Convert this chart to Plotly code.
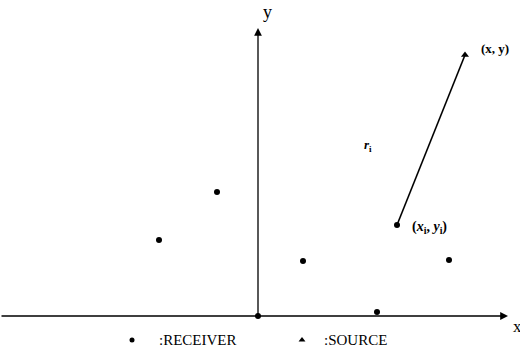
import plotly.graph_objects as go

# Data (units: arbitrary, origin at receiver 0)
receiver_x = [0.0, -4.1, -9.9, 4.5, 11.9, 19.1, 13.9]
receiver_y = [0.0, 12.4, 7.6, 5.5, 0.4, 5.6, 9.1]
source_x = [20.7]
source_y = [26.1]
ref_receiver = 6  # index of (x_i, y_i)

legend_labels = [":RECEIVER", ":SOURCE"]
legend_marker_x = [-12.6, 4.4]
legend_text_x = [-10.1, 6.4]
legend_y = -2.4

x_range = [-25.8, 26.2]
y_range = [-3.8, 31.6]

FONT = "Liberation Serif"

fig = go.Figure()

# line r_i from receiver i to source
fig.add_trace(go.Scatter(
    x=[receiver_x[ref_receiver], source_x[0]],
    y=[receiver_y[ref_receiver], source_y[0]],
    mode="lines", line=dict(color="black", width=1.6), hoverinfo="skip"))

fig.add_trace(go.Scatter(
    x=receiver_x, y=receiver_y, mode="markers",
    marker=dict(color="black", size=6, symbol="circle"), hoverinfo="skip"))

fig.add_trace(go.Scatter(
    x=source_x, y=source_y, mode="markers",
    marker=dict(color="black", size=7, symbol="triangle-up"), hoverinfo="skip"))

# legend markers
fig.add_trace(go.Scatter(
    x=[legend_marker_x[0]], y=[legend_y], mode="markers",
    marker=dict(color="black", size=5, symbol="circle"), hoverinfo="skip"))
fig.add_trace(go.Scatter(
    x=[legend_marker_x[1]], y=[legend_y], mode="markers",
    marker=dict(color="black", size=6, symbol="triangle-up"), hoverinfo="skip"))

annotations = []
# axes with arrows
annotations.append(dict(x=25.0, y=0, ax=x_range[0], ay=0, xref="x", yref="y",
                        axref="x", ayref="y", showarrow=True, arrowhead=2,
                        arrowsize=1.2, arrowwidth=1.3, arrowcolor="black", text=""))
annotations.append(dict(x=0, y=28.8, ax=0, ay=0, xref="x", yref="y",
                        axref="x", ayref="y", showarrow=True, arrowhead=2,
                        arrowsize=1.2, arrowwidth=1.3, arrowcolor="black", text=""))
# axis labels
annotations.append(dict(x=0.9, y=30.4, text="y", showarrow=False,
                        font=dict(family=FONT, size=18, color="black")))
annotations.append(dict(x=25.3, y=-1.0, text="x", showarrow=False, xanchor="left",
                        font=dict(family=FONT, size=17, color="black")))
# point labels
annotations.append(dict(x=source_x[0] + 1.4, y=source_y[0] + 0.7, text="<b>(x, y)</b>",
                        showarrow=False, xanchor="left",
                        font=dict(family=FONT, size=13, color="black")))
annotations.append(dict(x=receiver_x[ref_receiver] + 1.3, y=receiver_y[ref_receiver] - 0.2,
                        text="<b>(<i>x</i><sub>i</sub>, <i>y</i><sub>i</sub>)</b>",
                        showarrow=False, xanchor="left",
                        font=dict(family=FONT, size=14, color="black")))
annotations.append(dict(x=11.0, y=17.1, text="<b><i>r</i><sub>i</sub></b>",
                        showarrow=False,
                        font=dict(family=FONT, size=13, color="black")))
# legend texts
for lx, lab in zip(legend_text_x, legend_labels):
    annotations.append(dict(x=lx, y=legend_y, text=lab, showarrow=False, xanchor="left",
                            font=dict(family=FONT, size=15, color="black")))

fig.update_layout(
    width=520, height=354,
    margin=dict(l=0, r=0, t=0, b=0),
    paper_bgcolor="white", plot_bgcolor="white",
    showlegend=False,
    xaxis=dict(range=x_range, visible=False, fixedrange=True),
    yaxis=dict(range=y_range, visible=False, fixedrange=True),
    annotations=annotations,
)

fig.write_html("out.html")
